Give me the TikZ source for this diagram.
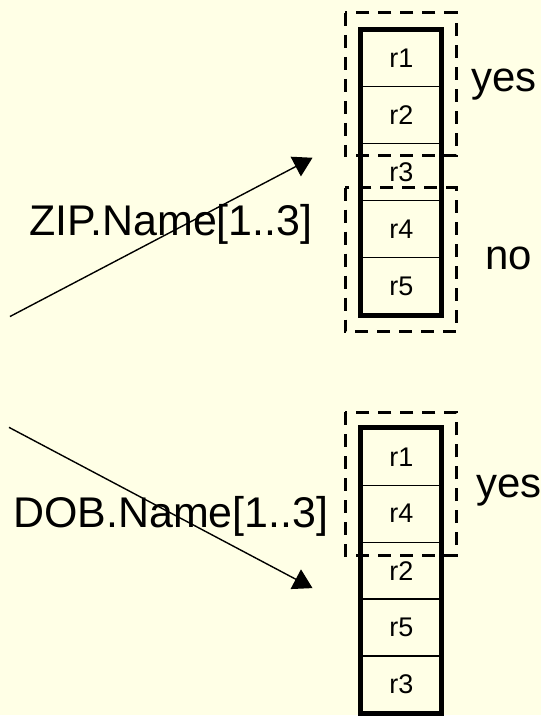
\documentclass[tikz,border=0pt]{standalone}
\usepackage{fontspec}
\setmainfont{Liberation Sans}
\usetikzlibrary{arrows.meta}
\definecolor{paper}{RGB}{255,255,230}
\tikzset{
  cell/.style={draw, line width=1.2pt, minimum width=80pt, minimum height=57pt,
    inner sep=0pt, font=\fontsize{27}{32}\selectfont},
  column/.style={draw, line width=5pt},
  group/.style={draw, line width=3pt, dash pattern=on 13pt off 9pt},
  tag/.style={anchor=base west, inner sep=0pt, font=\fontsize{42}{50}\selectfont},
  key/.style={tag, font=\fontsize{43}{50}\selectfont},
  probe/.style={line width=1.4pt, -{Triangle[length=19pt,width=22pt]}},
}
\begin{document}
\begin{tikzpicture}[x=1pt,y=-1pt]
        \fill[paper] (0,0) rectangle (542,716);
        %% sorted by ZIP
        \foreach \r [count=\i] in {r1,r2,r3,r4,r5}
            \node[cell] (zip\i) at (402,{30+57*(\i-0.5)}) {\r};
        \draw[column] (zip1.north west) rectangle (zip5.south east);
        %% sorted by DOB
        \foreach \r [count=\i] in {r1,r4,r2,r5,r3}
            \node[cell] (dob\i) at (402,{429+57*(\i-0.5)}) {\r};
        \draw[column] (dob1.north west) rectangle (dob5.south east);
        %% groups
        \draw[group] (346,13) rectangle (457,156);
        \draw[group] (346,188) rectangle (457,332);
        \draw[group] (346,413) rectangle (457,556);
        \node[tag] (yeszip) at (472,92) {yes};
        \node[tag] (nozip) at (486,270) {no};
        \node[tag] (yesdob) at (477,498) {yes};
        %% keys
        \node[key] (zipkey) at (29,236) {ZIP.Name[1..3]};
        \node[key] (dobkey) at (13,528) {DOB.Name[1..3]};
        %% arrows
        \coordinate (zipfrom) at (10,317);
        \coordinate (zipto) at (313,158);
        \coordinate (dobfrom) at (9,428);
        \coordinate (dobto) at (313,589);
        \draw[probe] (zipfrom) -- (zipto);
        \draw[probe] (dobfrom) -- (dobto);
    \end{tikzpicture}
\end{document}
